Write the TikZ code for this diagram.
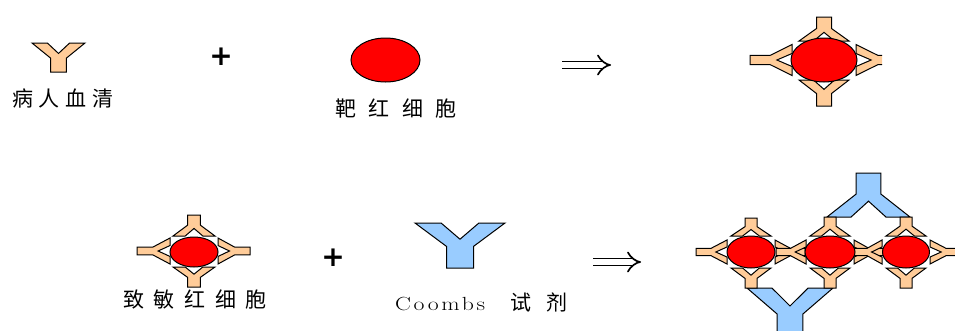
\documentclass[tikz,border=0pt]{standalone}
\usepackage{fontspec}
\newfontfamily\cjk{Noto Sans CJK SC}
\newfontfamily\latinserif[FakeStretch=1.25]{Latin Modern Roman}
\newfontfamily\symbolsans{DejaVu Sans}
\usetikzlibrary{arrows.meta,shapes.geometric}
\definecolor{serum}{HTML}{FFCC99}
\definecolor{coombs}{HTML}{99CCFF}
\definecolor{rbc}{HTML}{FF0000}

\begin{document}
\begin{tikzpicture}[x=1pt,y=-1pt,
  outline/.style={draw=black, line width=1pt, line join=miter},
  anti/.style={fill=serum},
  antiglob/.style={fill=coombs},
  cell/.style={ellipse, outline, fill=rbc, inner sep=0pt},
  caption/.style={anchor=west, inner sep=0pt, text=black},
  plussign/.style={inner sep=0pt, font=\symbolsans\bfseries\fontsize{28}{28}\selectfont},
  yields/.style={double, double distance=5.5pt, line width=1.7pt, -{Implies[scale=1.25]}},
  % Y-shaped antibody: arm tips on y=0, stem pointing to +y
  % #1 = half width of the arms, #2 = length along the stem
  pics/antibody/.style 2 args={code={
    \filldraw[outline] (-#1,0) -- (-0.42*#1,0) -- (0,0.36*#2) -- (0.42*#1,0)
      -- (#1,0) -- (0.3*#1,0.52*#2) -- (0.3*#1,#2) -- (-0.3*#1,#2)
      -- (-0.3*#1,0.52*#2) -- cycle;
  }}]
\useasboundingbox (0,0) rectangle (955,330);

% ---------- row 1: serum + target cell => sensitised cell ----------
\pic[anti] at (58.5,43) {antibody={26.5}{29}};
\node[caption, font=\cjk\fontsize{21}{21}\selectfont\addfontfeatures{LetterSpace=27}]
  (serumlabel) at (12,98) {病人血清};

\node[plussign] (plusA) at (221,57) {+};

\node[cell, minimum width=69pt, minimum height=44pt] (target) at (385.5,60) {};
\node[caption, font=\cjk\fontsize{21}{21}\selectfont\addfontfeatures{LetterSpace=60}]
  (targetlabel) at (335,109) {靶红细胞};

\coordinate (arrAstart) at (562,65);
\coordinate (arrAend) at (611,65);
\draw[yields] (arrAstart) -- (arrAend);

% coated cell
\pic[anti, rotate=180] at (824,41) {antibody={25}{24}};
\pic[anti] at (824,80) {antibody={25}{26}};
\pic[anti, rotate=-90] at (792,60) {antibody={15.5}{42}};
\begin{scope}
  \clip (850,30) rectangle (882,90);
  \pic[anti, rotate=90] at (856,60) {antibody={15.5}{42}};
\end{scope}
\node[cell, minimum width=66pt, minimum height=44pt] (coated) at (824,60) {};

% ---------- row 2: sensitised cell + Coombs reagent => agglutination ----------
\pic[anti, rotate=180] at (194,236) {antibody={21}{21}};
\pic[anti] at (194,267) {antibody={21}{20}};
\pic[anti, rotate=-90] at (170,251) {antibody={13}{33}};
\pic[anti, rotate=90] at (218,251) {antibody={13}{32}};
\node[cell, minimum width=48pt, minimum height=30pt] (sens) at (194,252) {};
\node[caption, font=\cjk\fontsize{21}{21}\selectfont\addfontfeatures{LetterSpace=46}]
  (senslabel) at (123,300) {致敏红细胞};

\node[plussign] (plusB) at (333,258) {+};

\pic[antiglob] at (460,223) {antibody={45}{45}};
\node[caption, font=\latinserif\fontsize{19}{19}\selectfont\addfontfeatures{LetterSpace=14}]
  (coombslabel) at (395,304) {Coombs};
\node[caption, font=\cjk\fontsize{21}{21}\selectfont\addfontfeatures{LetterSpace=71}]
  (reagentlabel) at (510,302) {试剂};

\coordinate (arrBstart) at (593,262);
\coordinate (arrBend) at (641,262);
\draw[yields] (arrBstart) -- (arrBend);

% agglutinated cells bridged by anti-globulin
\pic[antiglob, rotate=180] at (868.5,217) {antibody={41.5}{44}};
\pic[antiglob] at (790,288) {antibody={43}{50}};

% cell 1
\pic[anti, rotate=180] at (751,236) {antibody={20}{18}};
\pic[anti] at (751,268) {antibody={20}{20}};
\pic[anti, rotate=-90] at (727,252) {antibody={12}{31}};
\pic[anti, rotate=90] at (775,252) {antibody={12}{30}};
% cell 2
\pic[anti, rotate=-90] at (806,252) {antibody={12}{30}};
\pic[anti, rotate=180] at (830,236) {antibody={20}{19}};
\pic[anti] at (830,268) {antibody={20}{20}};
\pic[anti, rotate=90] at (854,252) {antibody={12}{29}};
% cell 3
\pic[anti, rotate=-90] at (882,252) {antibody={12}{29}};
\pic[anti, rotate=180] at (906,236) {antibody={20}{19}};
\pic[anti] at (906,268) {antibody={20}{20}};
\pic[anti, rotate=90] at (930,252) {antibody={12}{31}};

\node[cell, minimum width=48pt, minimum height=32pt] (cellA) at (751,252) {};
\node[cell, minimum width=50pt, minimum height=32pt] (cellB) at (830,252) {};
\node[cell, minimum width=47pt, minimum height=32pt] (cellC) at (906,252) {};
\end{tikzpicture}
\end{document}
